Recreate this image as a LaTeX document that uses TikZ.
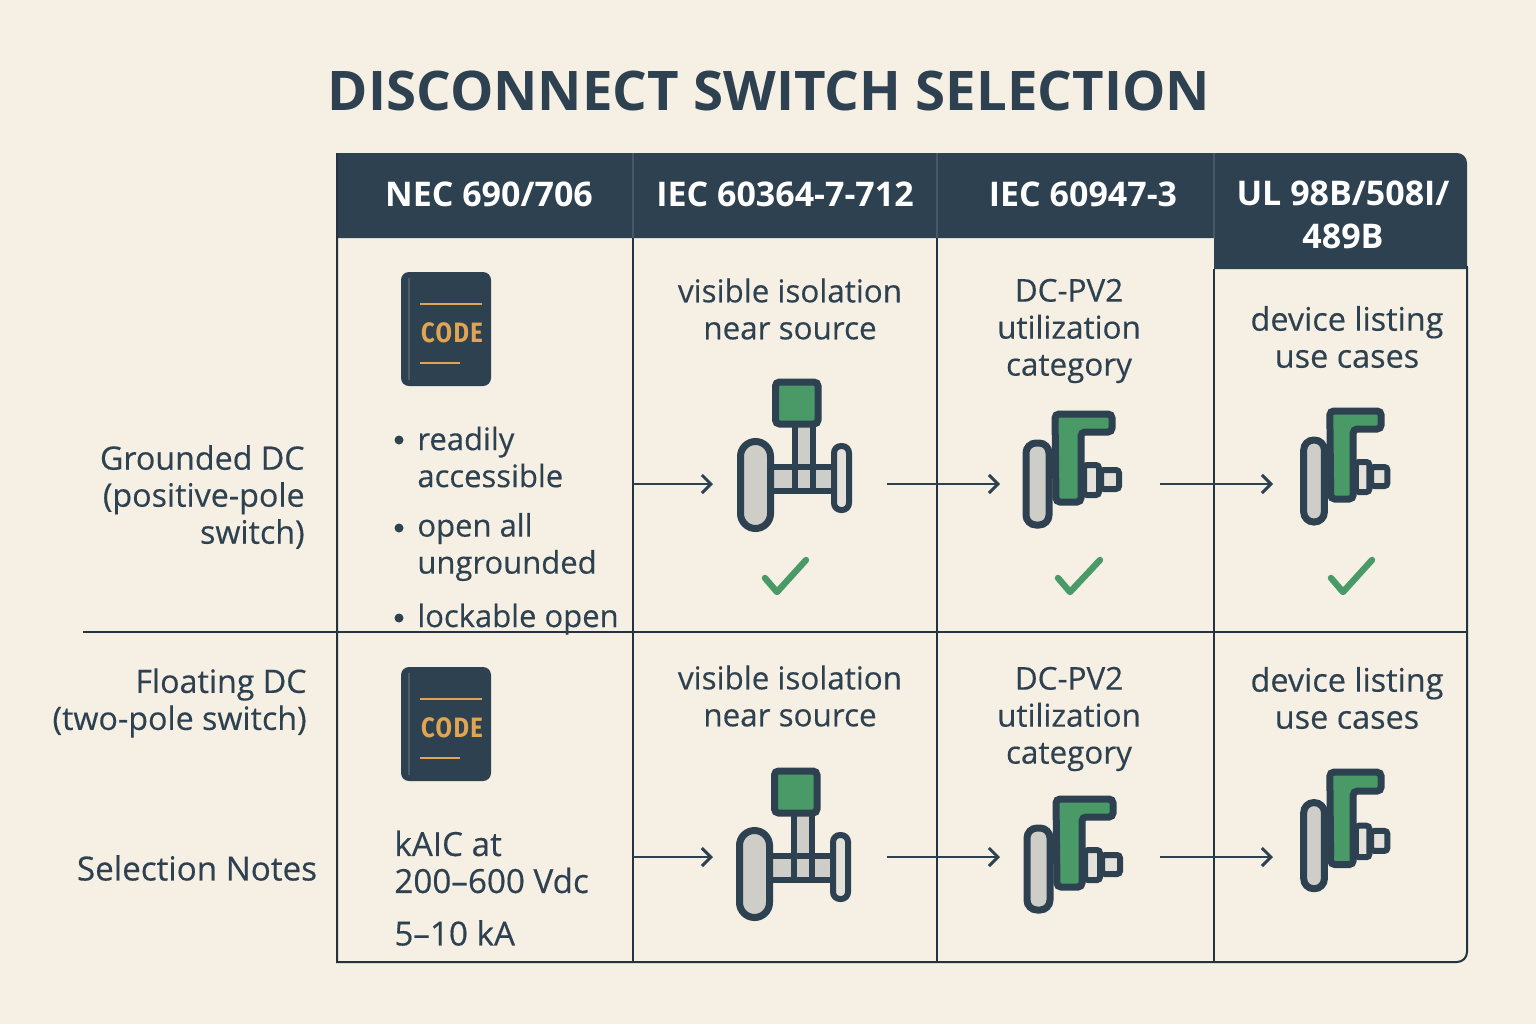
\documentclass[tikz,border=0pt]{standalone}
\usepackage{fontspec}
\setmainfont{Open Sans}
\newfontfamily\bodyfont[FakeBold=0.35]{Open Sans}
\newfontfamily\codefont[FakeStretch=0.85,LetterSpace=5]{Fira Sans}
\usetikzlibrary{arrows.meta}

\definecolor{paper}{HTML}{F5EFE4}
\definecolor{slate}{HTML}{2E4150}
\definecolor{ruling}{HTML}{25323F}
\definecolor{leaf}{HTML}{4A9A68}
\definecolor{steel}{HTML}{CFCDC8}
\definecolor{pale}{HTML}{E4E1DA}
\definecolor{amber}{HTML}{E0A552}

\tikzset{
  gridline/.style={draw=ruling, line width=1},
  headrule/.style={draw=slate!88!white, line width=0.6},
  flowarrow/.style={draw=slate, line width=1.2, -{Straight Barb[length=4.5pt,width=9pt,line width=1.5]}},
  titletext/.style={text=slate, inner sep=0, font=\fontsize{27.3pt}{30pt}\selectfont\bfseries},
  headtext/.style={text=white, align=center, inner sep=0, font=\fontsize{17pt}{21.5pt}\selectfont\bfseries},
  celltext/.style={text=slate, align=center, inner sep=0, font=\bodyfont\fontsize{#1}{18.5pt}\selectfont},
  celltext/.default=15.7pt,
  listtext/.style={celltext=#1, align=left, anchor=west},
  listtext/.default=15.5pt,
  labeltext/.style={celltext=16.1pt, align=right, anchor=east},
  bulletdot/.style={circle, fill=slate, inner sep=0, minimum size=4.5pt},
  icondraw/.style={draw=slate, line width=3.5, rounded corners=2pt},
  shaftline/.style={draw=slate, line width=3.3},
  checkmark/.style={draw=leaf, line width=3.2, line cap=round, line join=round}
}

% code book: #1 top left corner, #2 name
\newcommand{\codebook}[2]{
\begin{scope}[shift={#1}]
\fill [slate, rounded corners=4pt] (0,0) rectangle (90,114);
\draw [slate!85!white, line width=0.6] (8,6) -- (8,108);
\draw [amber, line width=1.2] (19,32) -- (81,32);
\draw [amber, line width=1.2] (19,91) -- (59,91);
\node (#2) [text=amber, inner sep=0, font=\fontsize{14pt}{14pt}\codefont\bfseries] at (51,61) {CODE};
\end{scope}
}

% isolator with handle on top
\newcommand{\isoswitch}[1]{
\begin{scope}[shift={#1}]
\fill [steel] (33,89) rectangle (97,113);
\fill [steel] (58,46) rectangle (76,113);
\draw [shaftline] (33,89) -- (97,89);
\draw [shaftline] (33,113) -- (97,113);
\draw [shaftline] (58,46) -- (58,113);
\draw [shaftline] (76,46) -- (76,113);
\draw [icondraw, fill=steel, rounded corners=7.5pt] (3.5,63.5) rectangle (33.5,150.5);
\draw [icondraw, line width=3, fill=pale, rounded corners=3.5pt] (97,68) rectangle (112,132);
\draw [icondraw, fill=leaf] (38.5,4) rectangle (81,46);
\end{scope}
}

% load break switch, #2 xscale, #3 yscale
\newcommand{\loadswitch}[3]{
\begin{scope}[shift={#1}, xscale=#2, yscale=#3]
\draw [icondraw, fill=steel, rounded corners=5pt] (3,32) rectangle (26,114);
\draw [icondraw, fill=leaf] (32,3) -- (89,3) -- (89,21) -- (58,21) -- (58,91) -- (33,91) -- cycle;
\draw [icondraw, line width=3, fill=pale, rounded corners=1.5pt] (61,54) rectangle (76,84);
\draw [icondraw, line width=3, fill=pale, rounded corners=1.5pt] (78,59) rectangle (96,78);
\end{scope}
}

\begin{document}
\begin{tikzpicture}[x=0.5pt, y=-0.5pt]

\useasboundingbox (0,0) rectangle (1536,1024);
\fill [paper] (0,0) rectangle (1536,1024);

\node (title) [titletext] at (769,91) {DISCONNECT SWITCH SELECTION};

% header band
\fill [slate] (337,153) [rounded corners=5pt] -- (1467,153) [sharp corners] -- (1467,269) -- (1214,269) -- (1214,238) -- (337,238) -- cycle;

% grid
\draw [gridline] (337,153) -- (337,962) [rounded corners=5pt] -- (1467,962) -- (1467,266);
\draw [gridline] (633,238) -- (633,962);
\draw [gridline] (937,238) -- (937,962);
\draw [gridline] (1214,269) -- (1214,962);
\draw [gridline] (83,632) -- (1467,632);
\draw [headrule] (633,153) -- (633,238);
\draw [headrule] (937,153) -- (937,238);
\draw [headrule] (1214,153) -- (1214,238);

\node (nec) [headtext] at (489,194) {NEC 690/706};
\node (iec1) [headtext] at (785,194) {IEC 60364-7-712};
\node (iec2) [headtext] at (1083,194) {IEC 60947-3};
\node (ul) [headtext] at (1343,215) {UL 98B/508I/\\489B};

% row labels
\node (grounded) [labeltext] at (305,497) {Grounded DC\\(positive-pole\\switch)};
\node (floating) [labeltext] at (307,703) {Floating DC\\(two-pole switch)};
\node (notes) [celltext=16.6pt] at (197,868) {Selection Notes};

% first column
\codebook{(401,272)}{code1}
\codebook{(401,667)}{code2}
\node (b1) [bulletdot] at (399,440) {};
\node (b2) [bulletdot] at (399,528) {};
\node (b3) [bulletdot] at (399,618) {};
\node (ready) [listtext] at (417,457) {readily\\accessible};
\node (open) [listtext] at (417,547) {open all\\ungrounded};
\node (lock) [listtext] at (417,619) {lockable open};
\node (kaic) [listtext=16.6pt] at (394,862) {kAIC at\\200–600 Vdc};
\node (ka) [listtext=16.6pt] at (394,933) {5–10 kA};

% cell texts
\node (vis1) [celltext] at (790,309) {visible isolation\\near source};
\node (vis2) [celltext] at (790,696) {visible isolation\\near source};
\node (pv1) [celltext] at (1069,331) {DC-PV2\\utilization\\category};
\node (pv2) [celltext] at (1069,719) {DC-PV2\\utilization\\category};
\node (dev1) [celltext=16.2pt] at (1347,337) {device listing\\use cases};
\node (dev2) [celltext=16.2pt] at (1347,698) {device listing\\use cases};

% icons
\isoswitch{(737,378)}
\isoswitch{(736,767)}
\loadswitch{(1023,411)}{1}{1}
\loadswitch{(1024,796)}{1}{1}
\loadswitch{(1301,408)}{0.9}{1}
\loadswitch{(1301,769)}{0.9}{1.05}

% checks
\draw [checkmark] (765,578) -- (777,592) -- (806,560);
\draw [checkmark] (1058,578) -- (1070,592) -- (1100,560);
\draw [checkmark] (1331,578) -- (1343,592) -- (1372,560);

% arrows
\coordinate (a1) at (633,484);
\coordinate (a2) at (713,484);
\coordinate (a3) at (887,484);
\coordinate (a4) at (1000,484);
\coordinate (a5) at (1160,484);
\coordinate (a6) at (1273,484);
\draw [flowarrow] (a1) -- (a2);
\draw [flowarrow] (a3) -- (a4);
\draw [flowarrow] (a5) -- (a6);
\coordinate (c1) at (633,857);
\coordinate (c2) at (713,857);
\coordinate (c3) at (887,857);
\coordinate (c4) at (1000,857);
\coordinate (c5) at (1160,857);
\coordinate (c6) at (1273,857);
\draw [flowarrow] (c1) -- (c2);
\draw [flowarrow] (c3) -- (c4);
\draw [flowarrow] (c5) -- (c6);

\end{tikzpicture}
\end{document}
